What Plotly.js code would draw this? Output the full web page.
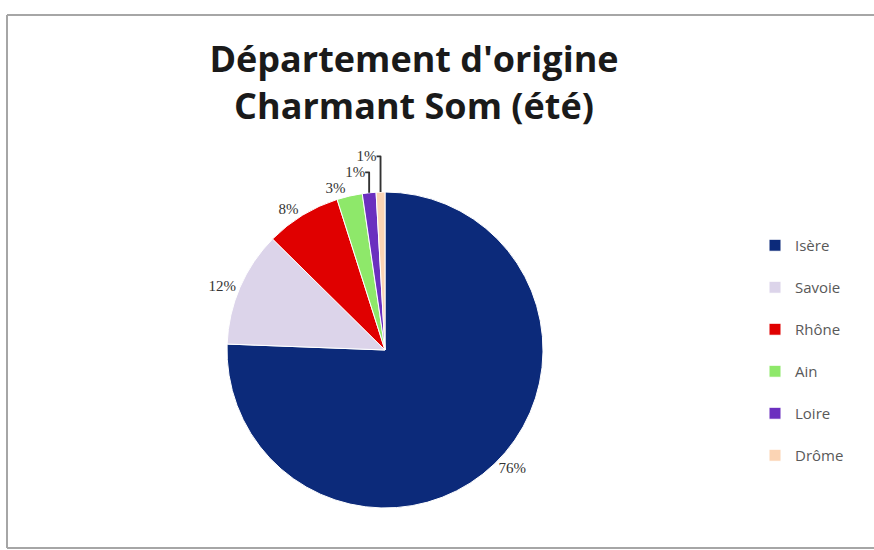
<!DOCTYPE html>
<html>
<head>
<meta charset="utf-8">
<script src="https://cdn.plot.ly/plotly-3.0.1.min.js"></script>
<style>
html,body{margin:0;padding:0;background:#fff;}
#chart{width:874px;height:550px;}
</style>
</head>
<body>
<div id="chart"></div>
<script>
const departements = ["Isère", "Savoie", "Rhône", "Ain", "Loire", "Drôme"];
const parts = [75.6, 11.8, 7.7, 2.6, 1.4, 0.9];
const couleurs = ["#0c2a7a", "#dcd4ea", "#e00000", "#8ee86a", "#6b2fbf", "#fbd4b4"];

const W = 874, H = 550;
const cx = 385, cy = 350, r = 158;

const trace = {
  type: "pie",
  labels: departements.map(d => d + "<br>&nbsp;"),
  values: parts,
  sort: false,
  direction: "clockwise",
  rotation: 0,
  marker: {colors: couleurs, line: {color: "#ffffff", width: 1}},
  texttemplate: "%{percent:.0%}",
  textposition: "outside",
  textfont: {family: "Liberation Serif, serif", size: 15, color: "#333333"},
  outsidetextfont: {family: "Liberation Serif, serif", size: 15, color: "#333333"},
  domain: {x: [(cx - r) / W, (cx + r) / W], y: [(H - cy - r) / H, (H - cy + r) / H]},
  showlegend: true
};

const grey = "#a6a6a6";
const layout = {
  width: W, height: H,
  margin: {l: 0, r: 0, t: 0, b: 0},
  paper_bgcolor: "#ffffff",
  title: {
    text: "Département d'origine<br>Charmant Som (été)",
    x: 414 / W, xanchor: "center", xref: "paper",
    y: 1 - 72 / H, yanchor: "top", yref: "container",
    font: {family: "'Open Sans', sans-serif", size: 36, color: "#1a1a1a", weight: "bold"}
  },
  legend: {
    x: 755 / W, xanchor: "left", y: 1 - 229 / H, yanchor: "top",
    valign: "top",
    font: {family: "'Open Sans', sans-serif", size: 15, color: "#595959"},
    bgcolor: "rgba(0,0,0,0)"
  },
  shapes: [
    {type: "line", xref: "paper", yref: "paper", x0: 7 / W, x1: 1.01, y0: 1 - 15 / H, y1: 1 - 15 / H, line: {color: grey, width: 2}},
    {type: "line", xref: "paper", yref: "paper", x0: 7 / W, x1: 7 / W, y0: 1 - 15 / H, y1: 1 - 548 / H, line: {color: grey, width: 2}},
    {type: "line", xref: "paper", yref: "paper", x0: 7 / W, x1: 1.01, y0: 1 - 548 / H, y1: 1 - 548 / H, line: {color: grey, width: 2}}
  ]
};

Plotly.newPlot("chart", [trace], layout, {displayModeBar: false, staticPlot: true});
</script>
</body>
</html>
